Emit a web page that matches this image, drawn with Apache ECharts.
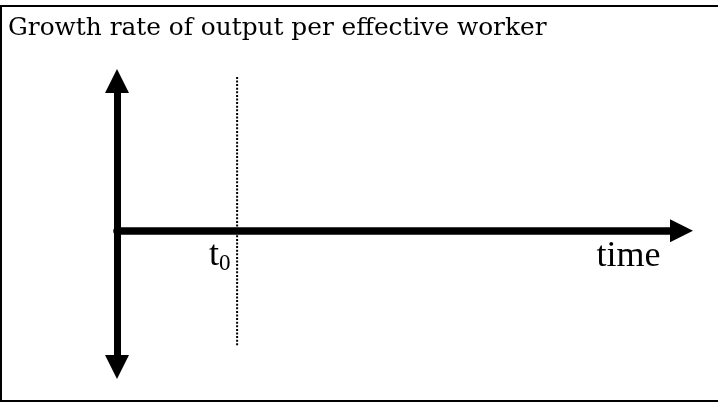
<!DOCTYPE html>
<html>
<head>
<meta charset="utf-8">
<script src="https://cdn.jsdelivr.net/npm/echarts@6/dist/echarts.min.js"></script>
<style>
  html, body { margin: 0; padding: 0; background: #fff; overflow: hidden; }
  #chart { width: 718px; height: 403px; }
  #frame {
    position: absolute; left: 0; top: 5px; width: 718px; height: 397px;
    box-sizing: border-box; border: 2px solid #000; border-right: none;
    pointer-events: none;
  }
</style>
</head>
<body>
<div id="chart"></div>
<div id="frame"></div>
<script>
// Phase diagram: growth rate of output per effective worker over time
const titleText = 'Growth rate of output per effective worker';
const timeRange = [0, 47];            // horizontal axis extent
const rateRange = [-1, 1.1];          // vertical axis extent (0 = steady state)
const shockTime = 10;                 // t0
const shockLineRates = [1.13, -0.84]; // vertical extent of the t0 marker
const timeAxisName = 'time';

const shockLine = shockLineRates.map(r => [shockTime, r]);

const chart = echarts.init(document.getElementById('chart'), null, { renderer: 'canvas' });

chart.setOption({
  animation: false,
  backgroundColor: '#fff',
  title: {
    text: titleText,
    left: 8,
    top: 16,
    padding: 0,
    textStyle: {
      fontFamily: 'DejaVu Serif',
      fontSize: 24.8,
      fontWeight: 'normal',
      color: '#000'
    }
  },
  grid: { left: 117, right: 36.5, top: 81, bottom: 36, containLabel: false, outerBoundsMode: 'none' },
  xAxis: {
    type: 'value',
    min: timeRange[0],
    max: timeRange[1],
    name: timeAxisName,
    nameLocation: 'end',
    nameGap: -21,
    nameTextStyle: {
      fontFamily: 'Liberation Serif',
      fontSize: 36,
      color: '#000',
      align: 'right',
      verticalAlign: 'top',
      padding: [8, 0, 0, 0]
    },
    axisLine: {
      onZero: true,
      symbol: ['none', 'triangle'],
      symbolSize: [23, 23],
      lineStyle: { color: '#000', width: 7.5 }
    },
    axisTick: { show: false },
    splitLine: { show: false },
    axisLabel: { show: false }
  },
  yAxis: {
    type: 'value',
    min: rateRange[0],
    max: rateRange[1],
    axisLine: {
      show: true,
      onZero: true,
      symbol: ['triangle', 'triangle'],
      symbolSize: [24, 24],
      lineStyle: { color: '#000', width: 7 }
    },
    axisTick: { show: false },
    axisLabel: { show: false },
    splitLine: { show: false }
  },
  series: [
    {
      type: 'line',
      data: shockLine,
      clip: false,
      symbol: 'none',
      silent: true,
      lineStyle: { color: '#000', width: 2, type: [2, 1.6] },
      z: 1,
      markPoint: {
        symbol: 'rect',
        symbolSize: 1,
        silent: true,
        itemStyle: { color: 'rgba(0,0,0,0)' },
        data: [{ coord: [shockTime, 0] }],
        label: {
          show: true,
          position: [-6, 7],
          align: 'right',
          verticalAlign: 'top',
          formatter: () => '{t|t}{s|0}',
          rich: {
            t: { fontFamily: 'Liberation Serif', fontSize: 36, color: '#000', verticalAlign: 'bottom', padding: [0, 0, 2, 0] },
            s: { fontFamily: 'Liberation Serif', fontSize: 23, color: '#000', verticalAlign: 'bottom' }
          }
        }
      }
    }
  ]
});
</script>
</body>
</html>
